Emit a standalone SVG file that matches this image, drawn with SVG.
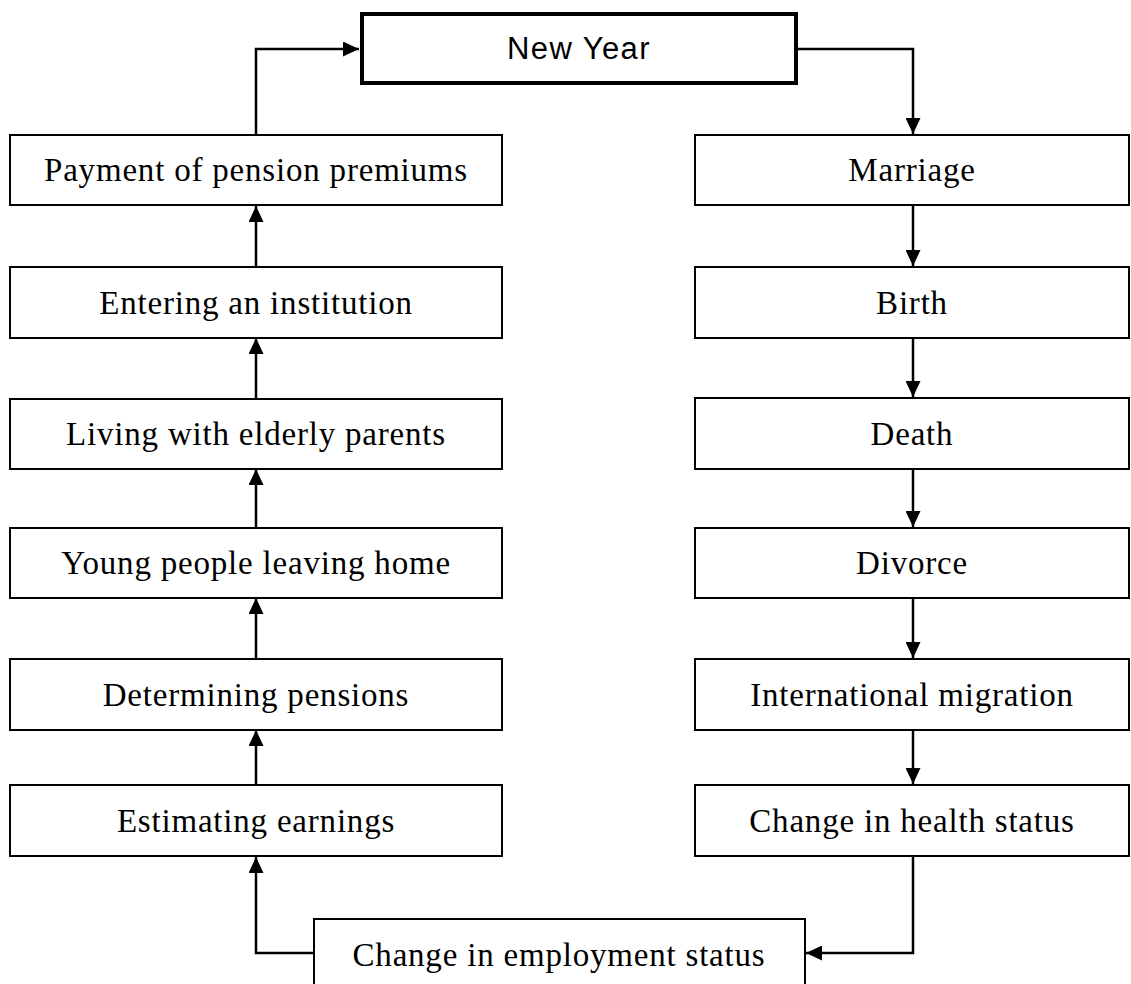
<svg xmlns="http://www.w3.org/2000/svg" width="1131" height="984" viewBox="0 0 1131 984">
  <style>
    .box { fill: #fff; stroke: #000; stroke-width: 2; }
    .main { fill: #fff; stroke: #000; stroke-width: 4; }
    .lbl { font-family: "Liberation Serif", "Times New Roman", serif; font-size: 33px; letter-spacing: 0.8px; text-anchor: middle; fill: #000; }
    .title { font-family: "Liberation Sans", Arial, sans-serif; font-size: 31px; letter-spacing: 1.4px; text-anchor: middle; fill: #000; }
    .conn { fill: none; stroke: #000; stroke-width: 2.5; marker-end: url(#arrow); }
  </style>
  <defs>
    <marker id="arrow" markerUnits="userSpaceOnUse" viewBox="0 0 16 15" markerWidth="16" markerHeight="15" refX="16" refY="7.5" orient="auto">
      <path d="M0,0 L16,7.5 L0,15 Z" fill="#000"/>
    </marker>
  </defs>
  <rect width="1131" height="984" fill="#fff"/>

  <g id="connectors">
    <path class="conn" d="M256,135 L256,49 L359,49"/>
    <path class="conn" d="M797,49 L913,49 L913,134"/>
    <path class="conn" d="M913,205 L913,266"/>
    <path class="conn" d="M913,337 L913,397"/>
    <path class="conn" d="M913,468 L913,527"/>
    <path class="conn" d="M913,598 L913,658"/>
    <path class="conn" d="M913,729 L913,784"/>
    <path class="conn" d="M913,856 L913,953 L806,953"/>
    <path class="conn" d="M314,953 L256,953 L256,857"/>
    <path class="conn" d="M256,785 L256,730"/>
    <path class="conn" d="M256,659 L256,598"/>
    <path class="conn" d="M256,528 L256,469"/>
    <path class="conn" d="M256,398 L256,338"/>
    <path class="conn" d="M256,267 L256,206"/>
  </g>

  <g id="new-year">
    <rect class="main" x="362" y="14" width="434" height="69"/>
    <text class="title" x="579" y="59">New Year</text>
  </g>

  <g id="payment">
    <rect class="box" x="10" y="135" width="492" height="70"/>
    <text class="lbl" x="256" y="181">Payment of pension premiums</text>
  </g>
  <g id="entering">
    <rect class="box" x="10" y="267" width="492" height="71"/>
    <text class="lbl" x="256" y="314">Entering an institution</text>
  </g>
  <g id="living">
    <rect class="box" x="10" y="399" width="492" height="70"/>
    <text class="lbl" x="256" y="445">Living with elderly parents</text>
  </g>
  <g id="young">
    <rect class="box" x="10" y="528" width="492" height="70"/>
    <text class="lbl" x="256" y="574">Young people leaving home</text>
  </g>
  <g id="determining">
    <rect class="box" x="10" y="659" width="492" height="71"/>
    <text class="lbl" x="256" y="706">Determining pensions</text>
  </g>
  <g id="estimating">
    <rect class="box" x="10" y="785" width="492" height="71"/>
    <text class="lbl" x="256" y="832">Estimating earnings</text>
  </g>

  <g id="marriage">
    <rect class="box" x="695" y="135" width="434" height="70"/>
    <text class="lbl" x="912" y="181">Marriage</text>
  </g>
  <g id="birth">
    <rect class="box" x="695" y="267" width="434" height="71"/>
    <text class="lbl" x="912" y="314">Birth</text>
  </g>
  <g id="death">
    <rect class="box" x="695" y="398" width="434" height="71"/>
    <text class="lbl" x="912" y="445">Death</text>
  </g>
  <g id="divorce">
    <rect class="box" x="695" y="528" width="434" height="70"/>
    <text class="lbl" x="912" y="574">Divorce</text>
  </g>
  <g id="migration">
    <rect class="box" x="695" y="659" width="434" height="71"/>
    <text class="lbl" x="912" y="706">International migration</text>
  </g>
  <g id="health">
    <rect class="box" x="695" y="785" width="434" height="71"/>
    <text class="lbl" x="912" y="832">Change in health status</text>
  </g>

  <g id="employment">
    <rect class="box" x="314" y="919" width="491" height="100"/>
    <text class="lbl" x="559" y="966">Change in employment status</text>
  </g>
</svg>
